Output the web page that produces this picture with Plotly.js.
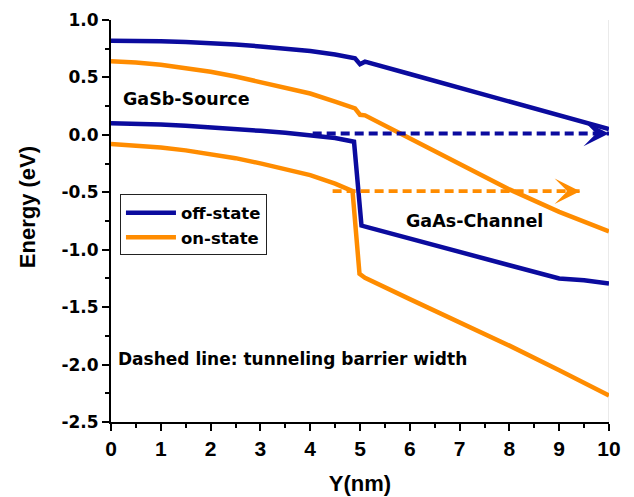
<!DOCTYPE html>
<html>
<head>
<meta charset="utf-8">
<script src="https://cdn.plot.ly/plotly-3.0.1.min.js"></script>
<style>
  html, body { margin: 0; padding: 0; background: #ffffff; }
  #chart { width: 634px; height: 497px; }
</style>
</head>
<body>
<div id="chart"></div>
<script>
// Band-edge profiles along the transport direction Y (nm)
const offCbX = [0, 0.5, 1, 1.5, 2, 2.5, 3, 3.5, 4, 4.5, 4.9, 5.0, 5.1, 6, 7, 8, 9, 10];
const offCbY = [0.82, 0.82, 0.815, 0.808, 0.80, 0.787, 0.77, 0.752, 0.73, 0.70, 0.666, 0.615, 0.637, 0.53, 0.41, 0.29, 0.17, 0.05];

const onCbX = [0, 0.5, 1, 1.5, 2, 2.5, 3, 3.5, 4, 4.5, 4.9, 5.0, 5.1, 5.8, 7, 8, 9, 10];
const onCbY = [0.64, 0.63, 0.61, 0.583, 0.55, 0.508, 0.46, 0.413, 0.36, 0.29, 0.23, 0.175, 0.17, 0.013, -0.25, -0.475, -0.67, -0.84];

const offVbX = [0, 0.5, 1, 1.5, 2, 2.5, 3, 3.5, 4, 4.5, 4.88, 5.03, 5.2, 6, 7, 8, 9, 9.5, 10];
const offVbY = [0.10, 0.097, 0.09, 0.08, 0.067, 0.052, 0.035, 0.018, 0.0, -0.027, -0.06, -0.79, -0.81, -0.90, -1.02, -1.135, -1.25, -1.265, -1.295];

const onVbX = [0, 0.5, 1, 1.5, 2, 2.5, 3, 3.5, 4, 4.5, 4.85, 4.99, 5.1, 6, 7, 7.8, 8, 9, 10];
const onVbY = [-0.08, -0.092, -0.11, -0.135, -0.165, -0.203, -0.248, -0.295, -0.35, -0.425, -0.49, -1.21, -1.245, -1.43, -1.63, -1.79, -1.835, -2.05, -2.27];

// Tunneling barrier widths (dashed arrows)
const offTunnelX = [4.05, 10];
const offTunnelY = [0.012, 0.012];
const onTunnelX = [4.45, 9.42];
const onTunnelY = [-0.49, -0.49];

const seriesNames = ['off-state', 'on-state'];

// Energy axis ticks, written with a plain hyphen for negatives
const energyTicks = [-2.5, -2.0, -1.5, -1.0, -0.5, 0.0, 0.5, 1.0];
const energyTickText = ['-2.5', '-2.0', '-1.5', '-1.0', '-0.5', '0.0', '0.5', '1.0'];

const BLUE = '#0b0b9e';
const ORANGE = '#ff8c00';
const LABEL_FONT = 'DejaVu Sans, sans-serif';
const TICK_FONT = 'Liberation Sans, Arial, sans-serif';

function band(x, y, color, name, showlegend) {
  return {
    x: x, y: y, type: 'scatter', mode: 'lines',
    name: name, legendgroup: name, showlegend: showlegend,
    line: { color: color, width: 4.5 },
    hoverinfo: 'skip'
  };
}

function tunnel(x, y, color, width) {
  return {
    x: x, y: y, type: 'scatter', mode: 'lines', showlegend: false,
    line: { color: color, width: width, dash: '9px,5px' },
    hoverinfo: 'skip'
  };
}

const traces = [
  band(offCbX, offCbY, BLUE, seriesNames[0], true),
  band(offVbX, offVbY, BLUE, seriesNames[0], false),
  band(onCbX, onCbY, ORANGE, seriesNames[1], true),
  band(onVbX, onVbY, ORANGE, seriesNames[1], false),
  tunnel(onTunnelX, onTunnelY, ORANGE, 3.6),
  tunnel(offTunnelX, offTunnelY, BLUE, 4)
];

function arrowHead(xs, ys, color) {
  const n = xs.length - 1;
  return {
    x: xs[n], y: ys[n], xref: 'x', yref: 'y', text: '',
    showarrow: true, arrowhead: 3, arrowsize: 1.25, arrowwidth: 3.4,
    arrowcolor: color, ax: -14, ay: 0, standoff: 0
  };
}

function label(text, x, y, size) {
  return {
    x: x, y: y, xref: 'x', yref: 'y', text: text, showarrow: false,
    xanchor: 'left', yanchor: 'middle',
    font: { family: LABEL_FONT, size: size, color: '#000', weight: 'bold' }
  };
}

const layout = {
  width: 634, height: 497,
  margin: { l: 111, r: 25, t: 20, b: 75 },
  paper_bgcolor: '#ffffff', plot_bgcolor: '#ffffff',
  showlegend: true,
  legend: {
    x: 0.018, y: 0.566, xanchor: 'left', yanchor: 'top',
    bgcolor: '#ffffff', bordercolor: '#222', borderwidth: 1,
    font: { family: LABEL_FONT, size: 16.5, color: '#000', weight: 'bold' },
    itemwidth: 50, tracegroupgap: 0
  },
  xaxis: {
    range: [0, 10], dtick: 1, tick0: 0,
    showgrid: false, zeroline: false,
    showline: true, linecolor: '#000', linewidth: 2,
    ticks: 'outside', ticklen: 7, tickwidth: 2, tickcolor: '#000',
    minor: { dtick: 0.5, ticks: 'outside', ticklen: 4, tickwidth: 2, tickcolor: '#000' },
    tickfont: { family: TICK_FONT, size: 21, color: '#000', weight: 'bold' },
    title: { text: 'Y(nm)', standoff: 16,
      font: { family: TICK_FONT, size: 22, color: '#000', weight: 'bold' } }
  },
  yaxis: {
    range: [-2.5, 1.0],
    tickmode: 'array', tickvals: energyTicks, ticktext: energyTickText,
    showgrid: false, zeroline: false,
    showline: true, linecolor: '#000', linewidth: 2,
    ticks: 'outside', ticklen: 7, tickwidth: 2, tickcolor: '#000',
    minor: { dtick: 0.25, tick0: 0, ticks: 'outside', ticklen: 4, tickwidth: 2, tickcolor: '#000' },
    tickfont: { family: LABEL_FONT, size: 17, color: '#000', weight: 'bold' }
  },
  shapes: [
    { type: 'line', xref: 'x', yref: 'paper', x0: 10, x1: 10, y0: 0, y1: 1,
      line: { color: '#d4d4d4', width: 1 }, layer: 'below' }
  ],
  annotations: [
    arrowHead(offTunnelX, offTunnelY, BLUE),
    arrowHead(onTunnelX, onTunnelY, ORANGE),
    label('GaSb-Source', 0.21, 0.31, 17.5),
    label('GaAs-Channel', 5.88, -0.75, 17.5),
    label('Dashed line: tunneling barrier width', 0.1, -1.95, 17),
    // energy axis title, set slightly above the axis midpoint
    { text: 'Energy (eV)', xref: 'paper', yref: 'paper', x: -0.169, y: 0.534,
      xanchor: 'center', yanchor: 'middle', textangle: -90, showarrow: false,
      font: { family: TICK_FONT, size: 22, color: '#000', weight: 'bold' } }
  ]
};

Plotly.newPlot('chart', traces, layout, { displayModeBar: false, staticPlot: true });
</script>
</body>
</html>
